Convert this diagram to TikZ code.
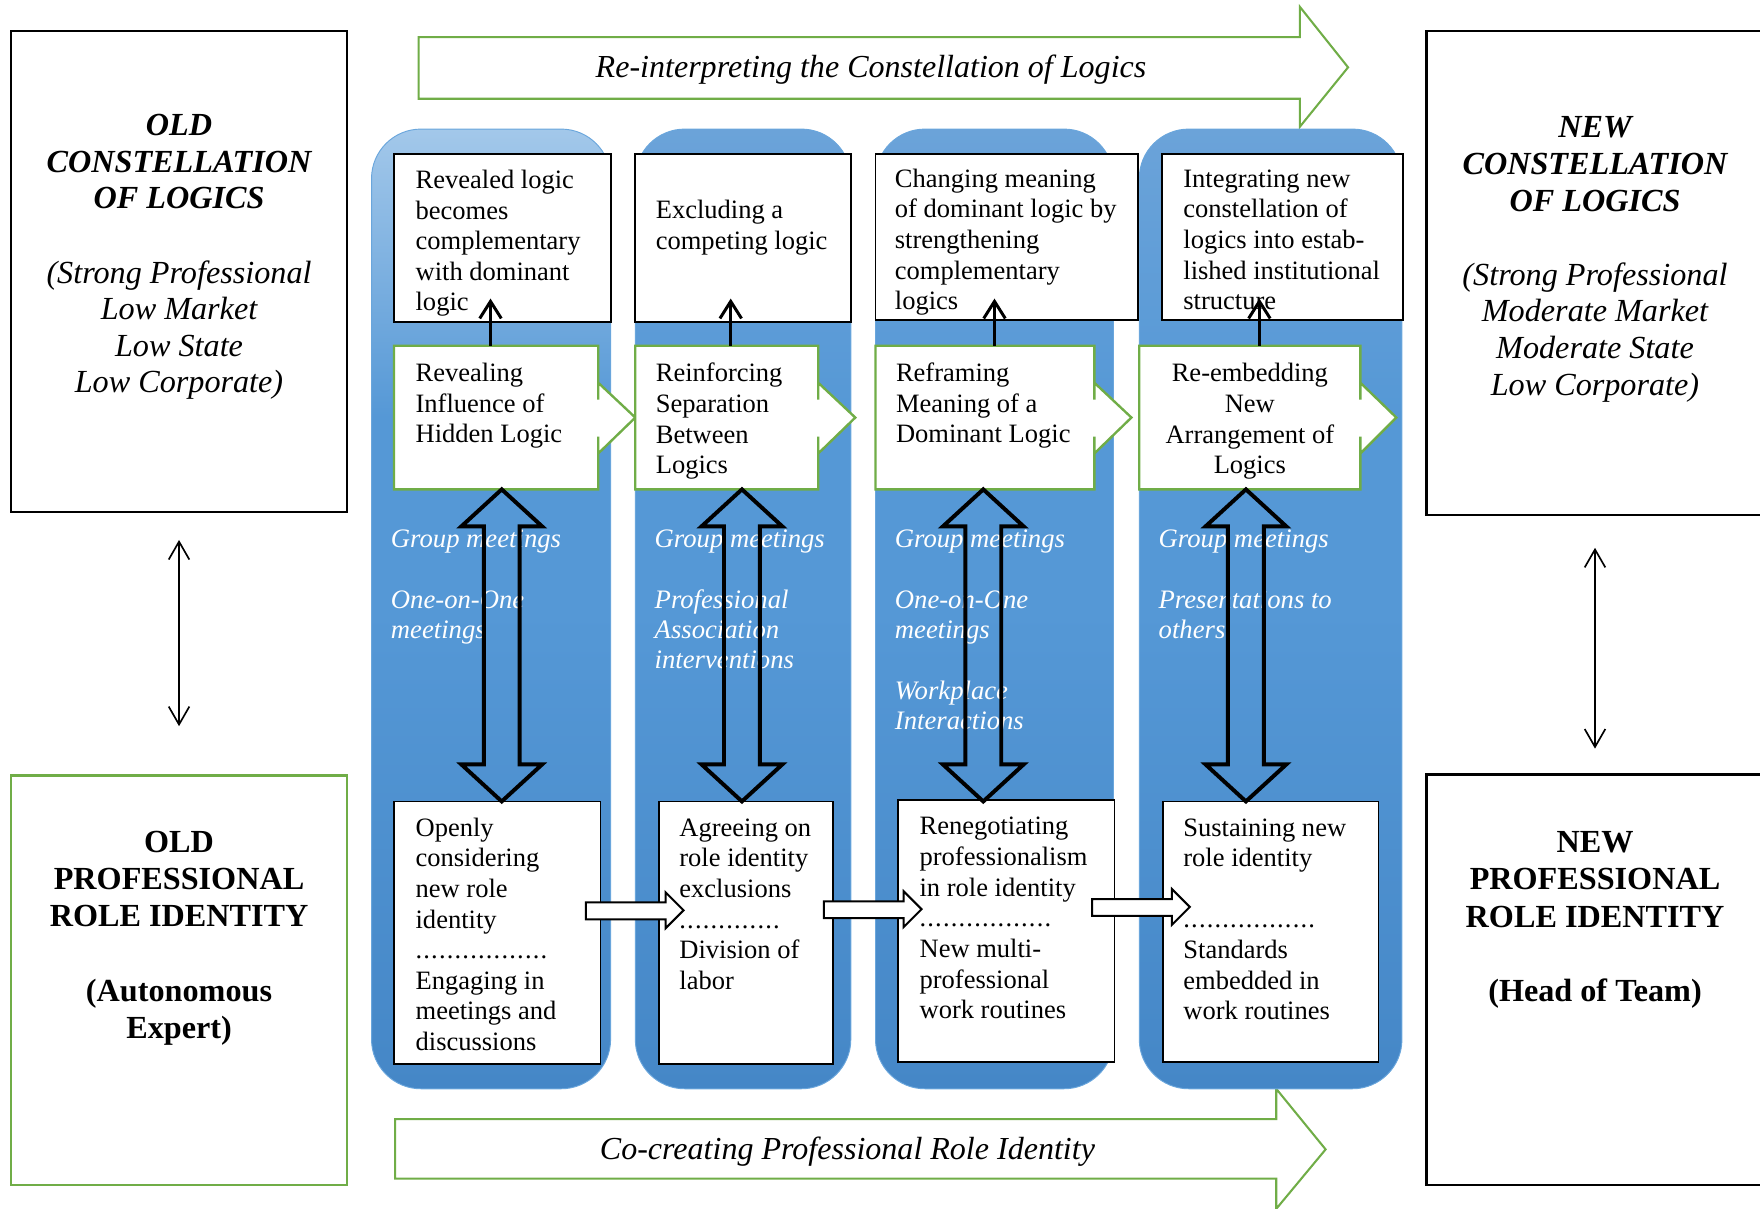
\documentclass[tikz,border=0pt]{standalone}
\usepackage{fontspec}
\setmainfont{Liberation Serif}
\usepackage[HTML]{xcolor}
\usepackage{tikz}
\usetikzlibrary{positioning, arrows.meta}

\definecolor{logicgreen}{HTML}{70AD47}
\definecolor{colbot}{HTML}{4587C7}
\definecolor{colmid}{HTML}{5598D6}
\definecolor{coltopa}{HTML}{A3C8EA}
\definecolor{coltopb}{HTML}{6BA3D9}
\definecolor{coledge}{HTML}{6AA6DC}

\pgfdeclareverticalshading{firstcol}{100bp}{color(0bp)=(colbot); color(25bp)=(colbot); color(50bp)=(colmid); color(60bp)=(colmid); color(75bp)=(coltopa); color(100bp)=(coltopa)}
\pgfdeclareverticalshading{othercol}{100bp}{color(0bp)=(colbot); color(25bp)=(colbot); color(50bp)=(colmid); color(60bp)=(colmid); color(75bp)=(coltopb); color(100bp)=(coltopb)}

\newcommand{\dotrow}[1]{\foreach \k in {1,...,#1}{.\hspace{0.75pt}}}

\begin{document}
\begin{tikzpicture}[x=0.025cm, y=-0.025cm,
  column/.style={rounded corners=1.1cm, draw=coledge, line width=0.6pt},
  stagebox/.style={draw=black, line width=1.1pt, fill=white, inner sep=0pt},
  sidebox/.style={draw=black, line width=1.4pt, fill=white, inner sep=0pt},
  greenbox/.style={draw=logicgreen, line width=1.5pt, fill=white},
  boxtext/.style={font=\fontsize{16.8}{19.4}\selectfont, align=left, inner sep=0pt, anchor=base west},
  meettext/.style={text=white, font=\fontsize{16.9}{19.2}\selectfont\itshape, align=left, inner sep=0pt, anchor=base west},
  headtext/.style={font=\fontsize{20.4}{23.2}\selectfont\bfseries\itshape, align=center, inner sep=0pt, anchor=base},
  mixtext/.style={font=\fontsize{20.4}{23.2}\selectfont\itshape, align=center, inner sep=0pt, anchor=base},
  roletext/.style={font=\fontsize{20.4}{23.5}\selectfont\bfseries, align=center, inner sep=0pt, anchor=base},
  flowtext/.style={font=\fontsize{20.3}{24}\selectfont\itshape, inner sep=0pt, anchor=base},
  flowarrow/.style={draw=logicgreen, line width=1.3pt, fill=white},
  bigarrow/.style={draw=black, line width=2.5pt},
  blockarrow/.style={draw=black, line width=1.3pt, fill=white},
  uparrow/.style={line width=1.9pt, -{Straight Barb[length=3.8mm, width=4.8mm]}},
  sidearrow/.style={line width=1.05pt, {Straight Barb[length=4mm, width=4.6mm]}-{Straight Barb[length=4mm, width=4.6mm]}}]

\useasboundingbox (0,0) rectangle (1568,1077);
\clip (0,0) rectangle (1568,1077);

% --- process arrows on top and bottom ---
\draw[flowarrow] (373,33) -- (1158,33) -- (1158,6) -- (1201,60) -- (1158,113) -- (1158,88) -- (373,88) -- cycle;
\node[flowtext] (reinterp) at (776,69) {Re-interpreting the Constellation of Logics};
\draw[flowarrow] (352,997) -- (1137,997) -- (1137,970) -- (1181,1024) -- (1137,1077) -- (1137,1050) -- (352,1050) -- cycle;
\node[flowtext] (cocreate) at (755,1033) {Co-creating Professional Role Identity};

% --- old constellation (left) ---
% (base anchor of a multi-line node sits on its last line)
\node[sidebox, minimum width=7.475cm, minimum height=10.7cm] (oldlog) at (159.5,242) {};
\node[headtext] (oldlogtitle) at (159.5,186) {OLD\\CONSTELLATION\\OF LOGICS};
\node[mixtext] (oldlogmix) at (159.5,350) {(Strong Professional\\Low Market\\Low State\\Low Corporate)};
\node[sidebox, draw=logicgreen, minimum width=7.475cm, minimum height=9.125cm] (oldrole) at (159.5,873.5) {};
\node[roletext] (oldroletxt) at (159.5,925) {OLD\\PROFESSIONAL\\ROLE IDENTITY\\[23.5pt](Autonomous\\Expert)};
\draw[sidearrow, shorten <=0.6cm, shorten >=1.075cm] (oldlog) -- (oldrole);

% --- new constellation (right) ---
\node[sidebox, minimum width=7.5cm, minimum height=10.775cm] (newlog) at (1421,243.5) {};
\node[headtext] (newlogtitle) at (1421,188) {NEW\\CONSTELLATION\\OF LOGICS};
\node[mixtext] (newlogmix) at (1421,352) {(Strong Professional\\Moderate Market\\Moderate State\\Low Corporate)};
\node[sidebox, minimum width=7.5cm, minimum height=9.15cm] (newrole) at (1421,873) {};
\node[roletext] (newroletxt) at (1421,892) {NEW\\PROFESSIONAL\\ROLE IDENTITY\\[23.5pt](Head of Team)};
\draw[sidearrow, shorten <=0.7cm, shorten >=0.55cm] (newlog) -- (newrole);

% --- four stage columns ---
\shadedraw[column, shading=firstcol] (331,115) rectangle (544,970);
\shadedraw[column, shading=othercol] (566,115) rectangle (758,970);
\shadedraw[column, shading=othercol] (780,115) rectangle (992,970);
\shadedraw[column, shading=othercol] (1015,115) rectangle (1249,970);

% outcome boxes on top
\node[stagebox, minimum width=4.825cm, minimum height=3.75cm] (reveal) at (447.5,212) {};
\node[boxtext] (revealtxt) at (370,277) {Revealed logic\\becomes\\complementary\\with dominant\\logic};
\node[stagebox, minimum width=4.8cm, minimum height=3.75cm] (exclude) at (662,212) {};
\node[boxtext] (excludetxt) at (584,222) {Excluding a\\competing logic};
\node[stagebox, minimum width=5.85cm, minimum height=3.7cm] (change) at (897,211) {};
\node[boxtext] (changetxt) at (797,276) {Changing meaning\\of dominant logic by\\strengthening\\complementary\\logics};
\node[stagebox, minimum width=5.375cm, minimum height=3.7cm] (integrate) at (1142.5,211) {};
\node[boxtext] (integratetxt) at (1054,276) {Integrating new\\constellation of\\logics into estab-\\lished institutional\\structure};

% stage boxes (green, pointing right)
\draw[greenbox] (351,308) -- (533,308) -- (533,356) -- (533,341) -- (566,372) -- (533,404) -- (533,389) -- (533,436) -- (351,436) -- cycle;
\node[boxtext] (revealing) at (370,394.5) {Revealing\\Influence of\\Hidden Logic};
\draw[greenbox] (566,308) -- (729,308) -- (729,356) -- (729,341) -- (762,372) -- (729,404) -- (729,389) -- (729,436) -- (566,436) -- cycle;
\node[boxtext] (reinforcing) at (584,422) {Reinforcing\\Separation\\Between\\Logics};
\draw[greenbox] (780,308) -- (975,308) -- (975,356) -- (975,341) -- (1008,372) -- (975,404) -- (975,389) -- (975,436) -- (780,436) -- cycle;
\node[boxtext] (reframing) at (798,394.5) {Reframing\\Meaning of a\\Dominant Logic};
\draw[greenbox] (1015,308) -- (1212,308) -- (1212,356) -- (1212,341) -- (1244,372) -- (1212,404) -- (1212,389) -- (1212,436) -- (1015,436) -- cycle;
\node[boxtext, align=center, anchor=base] (reembedding) at (1113.5,422) {Re-embedding\\New\\Arrangement of\\Logics};

% role identity boxes at the bottom
\node[stagebox, minimum width=4.6cm, minimum height=5.85cm] (openly) at (443,831) {};
\node[boxtext] (openlytxt) at (370,936) {Openly\\considering\\new role\\identity\\\dotrow{17}\\Engaging in\\meetings and\\discussions};
\node[stagebox, minimum width=3.875cm, minimum height=5.85cm] (agreeing) at (664.5,831) {};
\node[boxtext] (agreeingtxt) at (605,881.5) {Agreeing on\\role identity\\exclusions\\\dotrow{13}\\Division of\\labor};
\node[stagebox, minimum width=4.825cm, minimum height=5.825cm] (renegotiating) at (896.5,829.5) {};
\node[boxtext] (renegotiatingtxt) at (819,907.5) {Renegotiating\\professionalism\\in role identity\\\dotrow{17}\\New multi-\\professional\\work routines};
\node[stagebox, minimum width=4.8cm, minimum height=5.8cm] (sustaining) at (1132,830) {};
\node[boxtext] (sustainingtxt) at (1054,908.5) {Sustaining new\\role identity\\[19.4pt]\dotrow{17}\\Standards\\embedded in\\work routines};

% mechanisms (white italic)
\node[meettext] (meet1) at (348,569) {Group meetings\\[19.2pt]One-on-One\\meetings};
\node[meettext] (meet2) at (583,596) {Group meetings\\[19.2pt]Professional\\Association\\interventions};
\node[meettext] (meet3) at (797,650) {Group meetings\\[19.2pt]One-on-One\\meetings\\[19.2pt]Workplace\\Interactions};
\node[meettext] (meet4) at (1032,569) {Group meetings\\[19.2pt]Presentations to\\others};

% big two-way arrows between stage and role boxes
\coordinate (g1s) at (447,436);
\coordinate (g2s) at (661,436);
\coordinate (g3s) at (876,436);
\coordinate (g4s) at (1110,436);
\draw[bigarrow] (g1s) -- ++(36,33) -- ++(-20,0) -- ++(0,212) -- ++(20,0) -- ++(-36,33) -- ++(-36,-33) -- ++(20,0) -- ++(0,-212) -- ++(-20,0) -- cycle;
\draw[bigarrow] (g2s) -- ++(36,33) -- ++(-20,0) -- ++(0,212) -- ++(20,0) -- ++(-36,33) -- ++(-36,-33) -- ++(20,0) -- ++(0,-212) -- ++(-20,0) -- cycle;
\draw[bigarrow] (g3s) -- ++(36,33) -- ++(-20,0) -- ++(0,212) -- ++(20,0) -- ++(-36,33) -- ++(-36,-33) -- ++(20,0) -- ++(0,-212) -- ++(-20,0) -- cycle;
\draw[bigarrow] (g4s) -- ++(36,33) -- ++(-20,0) -- ++(0,212) -- ++(20,0) -- ++(-36,33) -- ++(-36,-33) -- ++(20,0) -- ++(0,-212) -- ++(-20,0) -- cycle;

% small arrows from stage to outcome
\coordinate (g1n) at (437,308);  \coordinate (t1a) at (437,266);
\coordinate (g2n) at (651,308);  \coordinate (t2a) at (651,266);
\coordinate (g3n) at (886,308);  \coordinate (t3a) at (886,266);
\coordinate (g4n) at (1122,308); \coordinate (t4a) at (1122,266);
\draw[uparrow] (g1n) -- (t1a);
\draw[uparrow] (g2n) -- (t2a);
\draw[uparrow] (g3n) -- (t3a);
\draw[uparrow] (g4n) -- (t4a);

% hollow arrows between role identity boxes
\draw[blockarrow] (522,804) -- (593,804) -- (593,795) -- (609,811) -- (593,827) -- (593,819) -- (522,819) -- cycle;
\draw[blockarrow] (734,803) -- (805,803) -- (805,794) -- (821,810) -- (805,826) -- (805,818) -- (734,818) -- cycle;
\draw[blockarrow] (973,801) -- (1044,801) -- (1044,792) -- (1060,808) -- (1044,824) -- (1044,816) -- (973,816) -- cycle;

\end{tikzpicture}
\end{document}
